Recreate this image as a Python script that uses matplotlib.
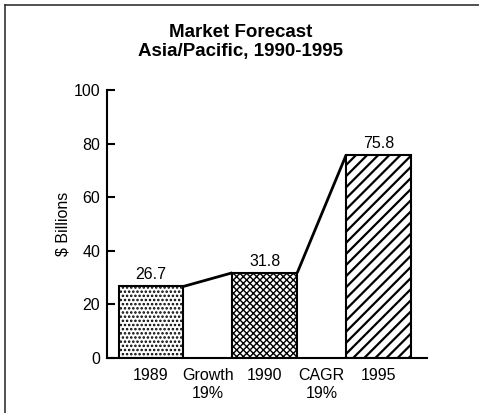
import matplotlib
matplotlib.use("Agg")
import matplotlib.pyplot as plt
from matplotlib.lines import Line2D

plt.rcParams['font.family'] = ['Liberation Sans', 'DejaVu Sans']
plt.rcParams['hatch.linewidth'] = 1.5

# Data
categories = ["1989", "Growth\n19%", "1990", "CAGR\n19%", "1995"]
bar_years = ["1989", "1990", "1995"]
bar_values = [26.7, 31.8, 75.8]
bar_hatches = ["....", "xxxxx", "///"]
hatch_widths = [1.2, 1.0, 1.6]
y_ticks = [0, 20, 40, 60, 80, 100]

W, H = 479, 413
fig = plt.figure(figsize=(W / 100, H / 100), dpi=100)

# figure frame: left and top rules
fig.add_artist(Line2D([5 / W, 5 / W], [0, 1 - 5 / H], transform=fig.transFigure,
                      color="#333333", lw=1.2))
fig.add_artist(Line2D([5 / W, 1], [1 - 5 / H, 1 - 5 / H], transform=fig.transFigure,
                      color="#333333", lw=1.2))

ax = fig.add_axes([107 / W, (H - 358) / H, (427 - 107) / W, (358 - 90) / H])

positions = [categories.index(y) for y in bar_years]
width = 1.14
bars = ax.bar(positions, bar_values, width=width, color="white",
              edgecolor="black", linewidth=1.5, hatch=bar_hatches, zorder=2)
for patch, hw in zip(bars.patches, hatch_widths):
    if hasattr(patch, "set_hatch_linewidth"):
        patch.set_hatch_linewidth(hw)

# connectors between successive bar tops
for i in range(len(positions) - 1):
    x0 = positions[i] + width / 2
    x1 = positions[i + 1] - width / 2
    ax.plot([x0, x1], [bar_values[i], bar_values[i + 1]], color="black",
            lw=2, solid_capstyle="butt", zorder=3)

for p, v in zip(positions, bar_values):
    ax.annotate(f"{v:.1f}", (p, v), xytext=(0, 3), textcoords="offset points",
                ha="center", va="bottom", fontsize=11.5)

ax.set_xlim(-0.773, 4.85)
ax.set_ylim(0, 100)
ax.set_xticks(range(len(categories)))
ax.set_xticklabels(categories, fontsize=11.5, linespacing=1.3)
ax.set_yticks(y_ticks)
ax.set_yticklabels([str(t) for t in y_ticks], fontsize=11.5)
ax.tick_params(axis="x", length=0, pad=7)
ax.tick_params(axis="y", direction="in", length=6, width=1.5, pad=5)

for s in ["top", "right"]:
    ax.spines[s].set_visible(False)
ax.spines["left"].set_linewidth(1.5)
ax.spines["bottom"].set_linewidth(1.5)
ax.spines["bottom"].set_zorder(4)

ax.set_ylabel("$ Billions", fontsize=11.5, labelpad=2)

fig.text(241 / W, 1 - 42 / H, "Market Forecast\nAsia/Pacific, 1990-1995",
         ha="center", va="center", fontsize=13.5, fontweight="bold", linespacing=1.2)

fig.savefig("out.png", dpi=100, facecolor="white")
